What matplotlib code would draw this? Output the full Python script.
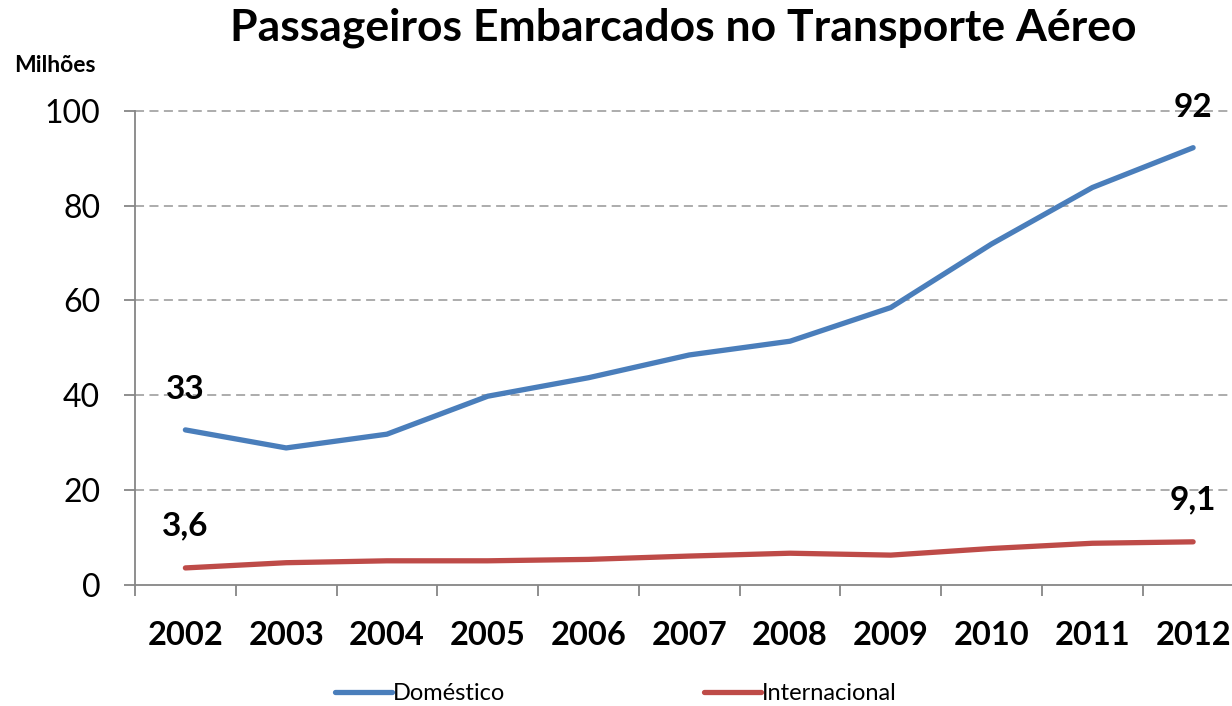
import matplotlib
matplotlib.use("Agg")
import matplotlib.pyplot as plt
from matplotlib.lines import Line2D

plt.rcParams['font.family'] = ['Lato', 'DejaVu Sans']

years = ['2002', '2003', '2004', '2005', '2006', '2007', '2008', '2009', '2010', '2011', '2012']
domestico = [32.7, 28.9, 31.8, 39.8, 43.7, 48.5, 51.4, 58.5, 71.9, 83.8, 92.2]
internacional = [3.6, 4.7, 5.1, 5.1, 5.4, 6.1, 6.7, 6.3, 7.7, 8.8, 9.1]
yticks = [0, 20, 40, 60, 80, 100]
labels_dom = {0: '33', 10: '92'}
labels_int = {0: '3,6', 10: '9,1'}

blue = '#4A7EBB'
red = '#BE4B48'
grid_c = '#A6A6A6'
axis_c = '#868686'

W, H = 1232, 706
fig = plt.figure(figsize=(W / 100, H / 100), dpi=100)
left, right, bottom, top = 135, 1243.5, 585, 110.7
ax = fig.add_axes([left / W, 1 - bottom / H, (right - left) / W, (bottom - top) / H])

x = list(range(len(years)))
ax.plot(x, domestico, color=blue, lw=3.8, solid_capstyle='round', solid_joinstyle='round', zorder=3)
ax.plot(x, internacional, color=red, lw=3.8, solid_capstyle='round', solid_joinstyle='round', zorder=3)

ax.set_xlim(-0.5, 10.5)
ax.set_ylim(0, 100)
ax.set_yticks(yticks)
ax.set_yticklabels([str(v) for v in yticks], fontsize=23)
ax.set_xticks([i - 0.5 for i in range(len(years) + 1)])
ax.set_xticklabels([])
ax.set_xticks(x, minor=True)
ax.set_xticklabels(years, minor=True, fontsize=23.5, fontweight='bold')
ax.tick_params(axis='x', which='minor', length=0, pad=26)
ax.tick_params(axis='x', which='major', length=8, width=1.3, color=axis_c, direction='out')
ax.tick_params(axis='y', length=8, width=1.3, color=axis_c, direction='out', pad=17)

for y in yticks[1:]:
    ax.axhline(y, color=grid_c, lw=1.3, ls=(0, (5, 3)), zorder=1, clip_on=False)

for s in ['top', 'right']:
    ax.spines[s].set_visible(False)
for s in ['left', 'bottom']:
    ax.spines[s].set_color(axis_c)
    ax.spines[s].set_linewidth(1.3)

for i, t in labels_dom.items():
    ax.annotate(t, (x[i], domestico[i]), xytext=(0, 40), textcoords='offset pixels',
                ha='center', va='center', fontsize=24, fontweight='bold')
for i, t in labels_int.items():
    ax.annotate(t, (x[i], internacional[i]), xytext=(0, 42), textcoords='offset pixels',
                ha='center', va='center', fontsize=24, fontweight='bold')

fig.text(683 / W, 1 - 28 / H, 'Passageiros Embarcados no Transporte Aéreo',
         ha='center', va='center', fontsize=32, fontweight='bold')
fig.text(14 / W, 1 - 65 / H, 'Milhões', ha='left', va='center', fontsize=16.5, fontweight='bold')

handles = [Line2D([], [], color=blue, lw=3.8, solid_capstyle='round'),
           Line2D([], [], color=red, lw=3.8, solid_capstyle='round')]
fig.legend(handles, ['Doméstico', 'Internacional'], ncol=2, loc='center',
           bbox_to_anchor=(616 / W, 1 - 694 / H), frameon=False, fontsize=17,
           handlelength=2.4, handletextpad=0.05, columnspacing=8.4, borderpad=0)

fig.savefig('out.png', dpi=100)
